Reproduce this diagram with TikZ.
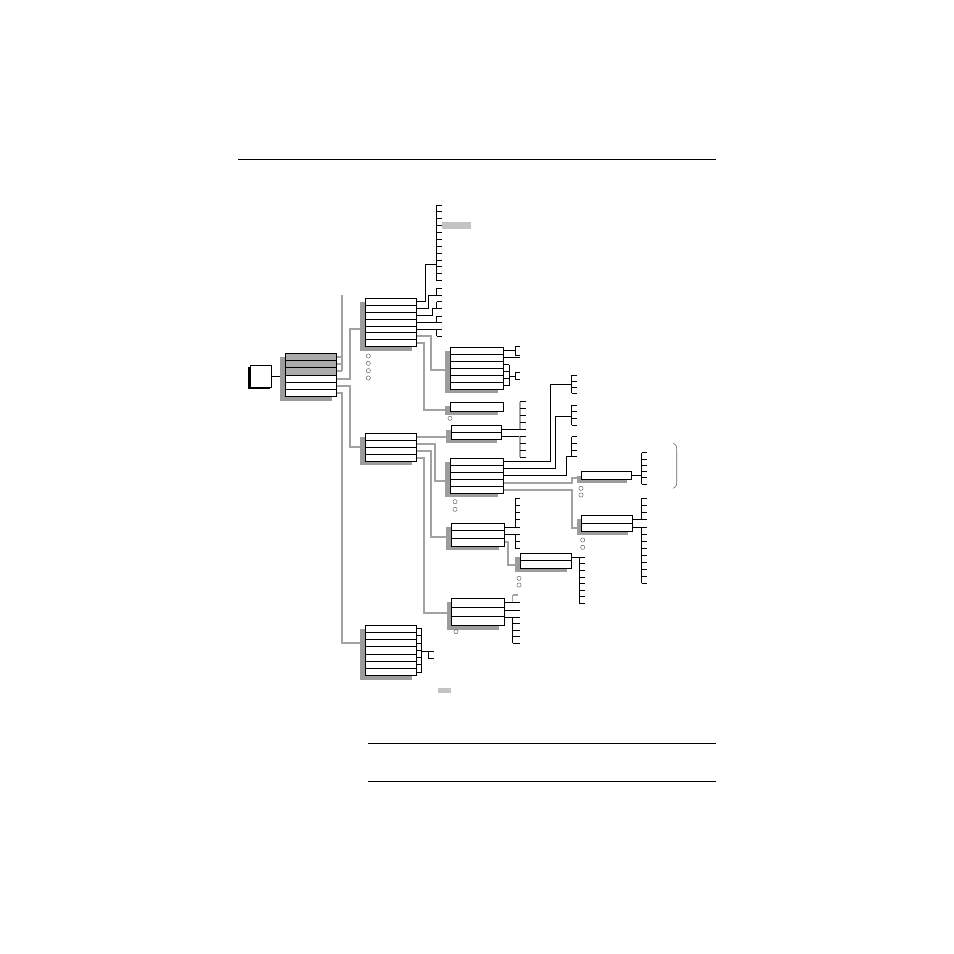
\documentclass[tikz,border=0pt]{standalone}
\definecolor{shadowc}{HTML}{9C9C9C}
\definecolor{gline}{HTML}{A2A2A2}
\definecolor{rowgray}{HTML}{ABABAB}
\definecolor{hili}{HTML}{C4C4C4}
\tikzset{
  mbox/.style={draw=black, line width=0.9pt, fill=white, inner sep=0pt, outer sep=0pt},
  rowline/.style={draw=black, line width=0.8pt},
  conn/.style={draw=black, line width=0.9pt},
  gconn/.style={draw=gline, line width=2pt},
  gspine/.style={draw=gline, line width=1.2pt},
  rule/.style={draw=black, line width=0.8pt},
  rcirc/.style={draw=black!70, line width=0.4pt},
}
\newcommand{\menubox}[6]{%
  \fill[shadowc] ({#2-5},{#3+4}) rectangle ({#4-5},{#5+4});
  \node[mbox, minimum width={#4-#2}, minimum height={#5-#3}, anchor=north west] (#1) at (#2,#3) {};
  \ifnum#6>1
  \foreach \i in {2,...,#6} \draw[rowline] (#2,{#3+(\i-1)*(#5-#3)/#6}) -- (#4,{#3+(\i-1)*(#5-#3)/#6});
  \fi
}
\newcommand{\combx}[5]{%
  \draw[conn] (#1,#2) -- (#1,#3);
  \foreach \k in {1,...,#4} \draw[conn] (#1,{#2+(\k-1)*(#3-#2)/(#4-1)}) -- ++(#5,0);
}
\newcommand{\rc}[2]{\draw[rcirc] (#1,#2) circle (2.1pt);}
\begin{document}
\begin{tikzpicture}[x=1pt,y=-1pt]
\useasboundingbox (0,0) rectangle (954,954);

% rules
\draw[rule] (238,159) -- (716,159);
\draw[rule] (368,743) -- (716,743);
\draw[rule] (368,781) -- (716,781);

% ---------- gray connectors (drawn first) ----------
% from main box
\draw[gconn] (341.7,295) -- (341.7,371.4);
\draw[gconn] (336.7,356.9) -- (341.7,356.9);
\draw[gconn] (336.7,364.1) -- (341.7,364.1);
\draw[gconn] (336.7,371.4) -- (341.7,371.4);
\draw[gconn] (336.7,378.6) -- (350,378.6) -- (350,329.3) -- (360,329.3);
\draw[gconn] (336.7,385.8) -- (350,385.8) -- (350,447) -- (360,447);
\draw[gconn] (336.7,393) -- (341.7,393) -- (341.7,643.3) -- (360.7,643.3);
% from box 2
\draw[gconn] (416.7,336.3) -- (430.7,336.3) -- (430.7,370) -- (446.7,370);
\draw[gconn] (416.7,343.2) -- (424,343.2) -- (424,410) -- (446.7,410);
% from box 3
\draw[gconn] (416.7,436.5) -- (446,436.5);
\draw[gconn] (416.7,443.5) -- (435,443.5) -- (435,480.7) -- (445,480.7);
\draw[gconn] (416.7,450.5) -- (430.7,450.5) -- (430.7,537.3) -- (446,537.3);
\draw[gconn] (416.7,457.5) -- (424,457.5) -- (424,613.3) -- (446.7,613.3);
% from box 7
\draw[gconn] (503.3,482.8) -- (571.7,482.8) -- (571.7,478.3) -- (576.7,478.3);
\draw[gconn] (503.3,489.8) -- (571.7,489.8) -- (571.7,528.3) -- (576.7,528.3);
% from box 10
\draw[gconn] (504.3,542.2) -- (508.3,542.2) -- (508.3,565) -- (516,565);

% ---------- root ----------
\fill[black] (248,367.3) rectangle (269.7,389.3);
\node[mbox, minimum width=21.7, minimum height=22, anchor=north west] (root) at (250,365) {};
\draw[conn] (root.east) -- (285,376);

% ---------- main box ----------
\fill[shadowc] (280,357.3) rectangle (331.7,400.7);
\node[mbox, minimum width=51.7, minimum height=43.4, anchor=north west] (mb) at (285,353.3) {};
\fill[rowgray] (285,353.3) rectangle (336.7,374.97);
\draw[mbox, fill=none] (285,353.3) rectangle (336.7,396.7);
\foreach \i in {1,...,5} \draw[rowline] (285,{353.3+\i*7.233}) -- (336.7,{353.3+\i*7.233});

% ---------- box 2 ----------
\menubox{b2}{365}{298.3}{416.7}{346.7}{7}
\foreach \yy in {356,363.3,370.7,378} {\rc{368.3}{\yy}}
\draw[conn] (416.7,301.8) -- (425,301.8) -- (425,264) -- (436.7,264);
\combx{436.7}{205}{280.7}{12}{5}
\fill[hili] (441.7,221.7) rectangle (470.7,229);
\draw[conn] (416.7,308.7) -- (428.3,308.7) -- (428.3,295) -- (436.7,295);
\combx{436.7}{288.3}{295}{2}{5}
\draw[conn] (416.7,315.6) -- (432.7,315.6) -- (432.7,308.3) -- (436.7,308.3);
\combx{436.7}{301.7}{308.3}{2}{5}
\draw[conn] (416.7,322.5) -- (436.7,322.5);
\combx{436.7}{316}{322.5}{2}{5}
\draw[conn] (416.7,329.4) -- (436.7,329.4);
\combx{436.7}{329.4}{336}{2}{5}

% ---------- box 4 ----------
\menubox{b4}{450}{347.3}{503.3}{389.3}{6}
\draw[conn] (503.3,350.8) -- (515,350.8);
\combx{515}{346.7}{355}{2}{5}
\draw[conn] (503.3,357.8) -- (520,357.8);
\draw[conn] (509.3,364.8) -- (509.3,385.8);
\foreach \yy in {364.8,371.8,378.8,385.8} {\draw[conn] (503.3,\yy) -- (509.3,\yy);}
\draw[conn] (509.3,376) -- (515,376);
\combx{515}{372.7}{379.3}{2}{5}

% ---------- box 5 ----------
\menubox{b5}{450}{402.3}{503.3}{411}{1}
\rc{450}{418.3}

% ---------- box 3 ----------
\menubox{b3}{365}{433}{416.7}{461}{4}

% ---------- box 6 ----------
\menubox{b6}{451}{425.7}{501.7}{439.3}{2}
\draw[conn] (501.7,429.1) -- (520,429.1);
\draw[gspine] (520,401.7) -- (520,429.1);
\foreach \k in {0,...,4} {\draw[conn] (520,{401.7+\k*6.85}) -- ++(5.7,0);}
\draw[conn] (501.7,436.1) -- (520,436.1);
\draw[gspine] (520,436.1) -- (520,457);
\foreach \k in {0,...,3} {\draw[conn] (520,{436.7+\k*6.77}) -- ++(5.7,0);}

% ---------- box 7 ----------
\menubox{b7}{450}{458.3}{503.3}{493.3}{5}
\rc{455}{501.7}\rc{455}{509.3}
\draw[conn] (503.3,461.8) -- (550,461.8) -- (550,384.3) -- (571.7,384.3);
\combx{571.7}{375}{393.3}{4}{5}
\draw[conn] (503.3,468.8) -- (555,468.8) -- (555,416.7) -- (571.7,416.7);
\combx{571.7}{405}{425}{4}{5}
\draw[conn] (503.3,475.8) -- (566.7,475.8) -- (566.7,456.7) -- (571.7,456.7);
\combx{571.7}{436.7}{456.7}{4}{5}

% ---------- box 8 ----------
\menubox{b8}{581.7}{471.7}{631.7}{479.3}{1}
\rc{581}{488.3}\rc{581}{495}
\draw[conn] (631.7,475.5) -- (641.7,475.5);
\combx{641.7}{452.7}{484}{6}{5}
\draw[draw=black!60, line width=0.6pt] (673.3,443.3) .. controls (676.5,445.5) .. (676.7,450) -- (676.7,481.5) .. controls (676.5,486) .. (673.3,488.3);

% ---------- box 9 ----------
\menubox{b9}{581.7}{515}{632.7}{531}{2}
\rc{582.7}{540}\rc{582.7}{547.3}
\draw[conn] (632.7,519) -- (641.7,519);
\combx{641.7}{498.3}{519}{4}{5}
\draw[conn] (632.7,527.5) -- (641.7,527.5);
\combx{641.7}{527.5}{583.3}{9}{5}

% ---------- box 10 ----------
\menubox{b10}{451}{523.3}{504.3}{546}{3}
\draw[conn] (504.3,527.1) -- (515,527.1);
\combx{515}{498.3}{527.1}{5}{5}
\draw[conn] (504.3,534.7) -- (515,534.7);
\combx{515}{534.7}{548.3}{3}{5}

% ---------- box 11 ----------
\menubox{b11}{520}{553.3}{571.7}{568.3}{2}
\rc{519}{578.3}\rc{519}{585}
\draw[conn] (571.7,557.3) -- (579.3,557.3);
\combx{579.3}{557.3}{603.3}{8}{5.7}

% ---------- box 12 ----------
\menubox{b12}{451.7}{598.3}{504.3}{625.7}{3}
\rc{456}{631.7}
\draw[gspine] (512.7,595) -- (512.7,602.5);
\draw[gspine] (512.7,595) -- (518,595);
\draw[conn] (504.3,602.5) -- (520,602.5);
\draw[conn] (504.3,610) -- (520,610);
\draw[conn] (504.3,617) -- (512.7,617);
\combx{512.7}{617}{643.3}{5}{7.3}

% ---------- box 13 ----------
\menubox{b13}{365}{625}{416.7}{675.7}{7}
\foreach \k in {0,...,6} {\draw[conn] (416.7,{628.6+\k*7.24}) -- (421.7,{628.6+\k*7.24});}
\draw[conn] (421.7,628.6) -- (421.7,672.1);
\draw[conn] (421.7,651.7) -- (428.3,651.7);
\combx{428.3}{651.7}{658.3}{2}{5.7}
\fill[hili] (438.3,688.3) rectangle (451,693.3);

\end{tikzpicture}
\end{document}
